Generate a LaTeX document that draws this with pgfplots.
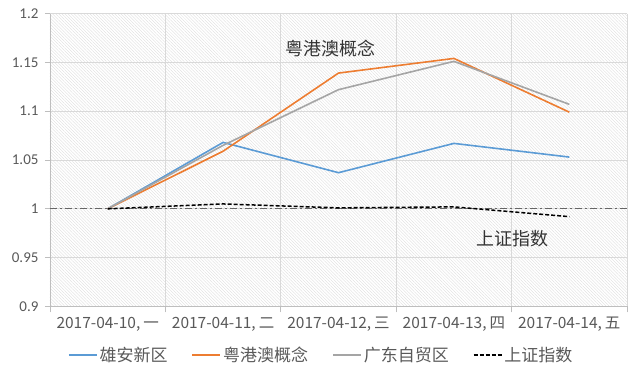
\documentclass[border=0pt]{standalone}
\usepackage{pgfplots}
\pgfplotsset{compat=1.18}
\usepackage{fontspec}
\setmainfont{Liberation Sans}
\newfontfamily\cjk{Noto Sans CJK SC}
\newfontfamily\calfont{Carlito}
\usetikzlibrary{patterns.meta}
\definecolor{cblue}{HTML}{5B9BD5}
\definecolor{corange}{HTML}{ED7D31}
\definecolor{cgray}{HTML}{A5A5A5}
\definecolor{gridc}{HTML}{D9D9D9}
\definecolor{labc}{HTML}{595959}
\begin{document}
\begin{tikzpicture}
\path[use as bounding box] (0pt,0pt) rectangle (640pt,372pt);
\begin{axis}[
  at={(50pt,65.5pt)}, anchor=south west,
  width=577pt, height=293pt, scale only axis,
  xmin=0, xmax=5, ymin=0.9, ymax=1.2,
  axis x line*=bottom, axis y line*=left,
  axis line style={draw=gridc!70!gray, line width=0.8pt},
  axis background/.style={pattern={Lines[angle=-45,distance=2.2pt,line width=0.35pt]}, pattern color=gray!28},
  xtick={0.5,1.5,2.5,3.5,4.5},
  xticklabels={{2017-04-10,\hspace{3pt}一},{2017-04-11,\hspace{3pt}二},{2017-04-12,\hspace{3pt}三},{2017-04-13,\hspace{3pt}四},{2017-04-14,\hspace{3pt}五}},
  major x tick style={draw=none},
  minor xtick={0,1,2,3,4,5},
  xminorgrids=true,
  minor tick length=6pt,
  minor x tick style={draw=gridc!70!gray, line width=0.8pt},
  tick align=outside,
  ytick={0.9,0.95,1,1.05,1.1,1.15,1.2},
  yticklabels={0.9,0.95,1,1.05,1.1,1.15,1.2},
  ymajorgrids=true,
  major tick length=5pt,
  y tick style={draw=gridc!70!gray, line width=0.8pt},
  grid style={draw=gridc, line width=0.7pt},
  minor grid style={draw=gridc, line width=0.7pt},
  x tick label style={font=\cjk\fontsize{15.5}{17}\selectfont, text=labc, yshift=-2pt},
  y tick label style={font=\calfont\fontsize{15}{17}\selectfont, text=labc, xshift=-3pt},
  legend style={at={(0.47,-0.166)}, anchor=center, draw=none, fill=none,
    font=\cjk\fontsize{17}{19}\selectfont, text=labc,
    /tikz/every even column/.append style={column sep=22pt}},
  legend columns=4,
  legend cell align=left,
  legend image code/.code={\draw[#1] (0pt,0pt) -- (28pt,0pt);},
  clip=false,
]
\addplot[gray!80!black, line width=0.8pt, dash pattern=on 7pt off 3pt on 2pt off 3pt, forget plot] coordinates {(0,1) (5,1)};
\addplot[cblue, line width=1.6pt] coordinates {(0.5,1.000) (1.5,1.068) (2.5,1.037) (3.5,1.067) (4.5,1.053)};
\addlegendentry{雄安新区}
\addplot[corange, line width=1.6pt] coordinates {(0.5,1.000) (1.5,1.059) (2.5,1.139) (3.5,1.154) (4.5,1.099)};
\addlegendentry{粤港澳概念}
\addplot[cgray, line width=1.6pt] coordinates {(0.5,1.000) (1.5,1.065) (2.5,1.122) (3.5,1.151) (4.5,1.107)};
\addlegendentry{广东自贸区}
\addplot[black, line width=1.5pt, dash pattern=on 4pt off 2pt] coordinates {(0.5,1.000) (1.5,1.005) (2.5,1.001) (3.5,1.002) (4.5,0.992)};
\addlegendentry{上证指数}
\node[font=\cjk\fontsize{18}{20}\selectfont, text=black!80] at (axis cs:2.43,1.164) {粤港澳概念};
\node[font=\cjk\fontsize{18}{20}\selectfont, text=black!80] at (axis cs:4.01,0.969) {上证指数};
\end{axis}
\end{tikzpicture}
\end{document}
